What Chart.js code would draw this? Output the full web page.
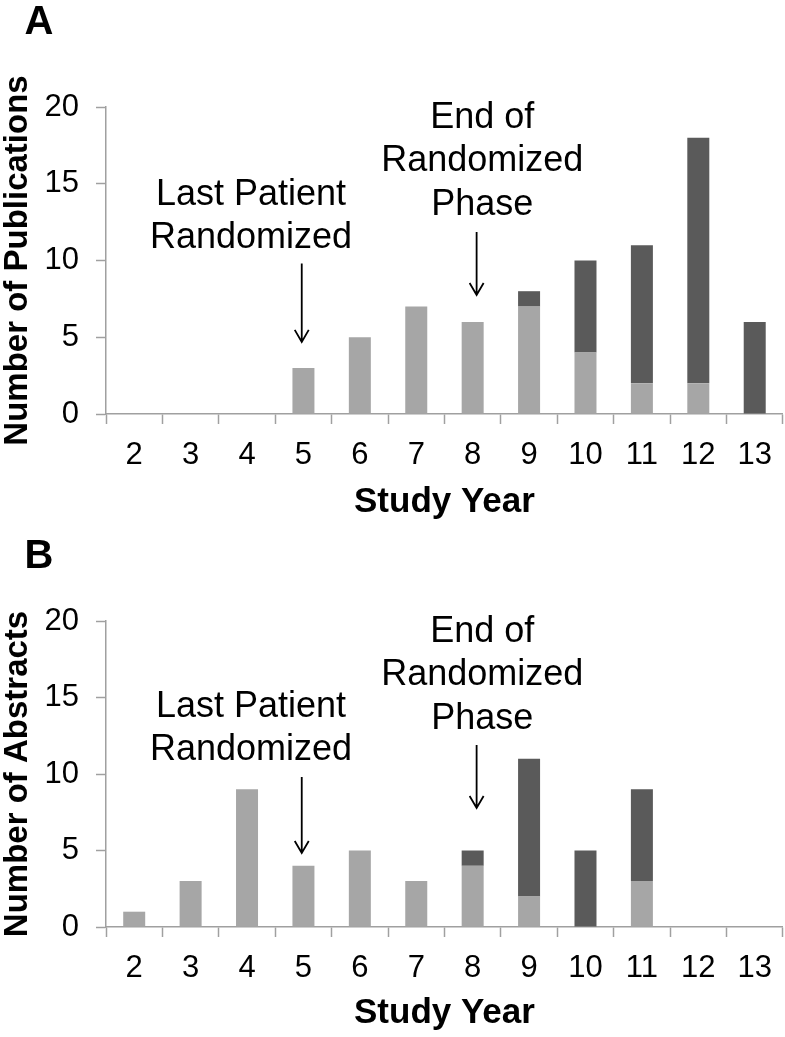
<!DOCTYPE html>
<html>
<head>
<meta charset="utf-8">
<script src="https://cdn.jsdelivr.net/npm/chart.js@4.4.1/dist/chart.umd.min.js"></script>
<style>
  html, body { margin: 0; padding: 0; background: #fff; }
  body { width: 785px; height: 1037px; position: relative; overflow: hidden; }
  canvas { position: absolute; left: 0; }
  #chartA { top: 0; }
  #chartB { top: 520px; }
</style>
</head>
<body>
<canvas id="chartA" width="785" height="520"></canvas>
<canvas id="chartB" width="785" height="517"></canvas>
<script>
// Study years (x categories)
const studyYears = ['2', '3', '4', '5', '6', '7', '8', '9', '10', '11', '12', '13'];

// Panel A: publications (light = lower part, dark = upper part)
const pubsLight = [0, 0, 0, 3, 5, 7, 6, 7, 4, 2, 2, 0];
const pubsDark  = [0, 0, 0, 0, 0, 0, 0, 1, 6, 9, 16, 6];

// Panel B: abstracts
const absLight = [1, 3, 9, 4, 5, 3, 4, 2, 0, 3, 0, 0];
const absDark  = [0, 0, 0, 0, 0, 0, 1, 9, 5, 6, 0, 0];

const yTicks = [0, 5, 10, 15, 20];

const FONT = "'Liberation Sans', Arial, Helvetica, sans-serif";
const LIGHT = '#a6a6a6';
const DARK = '#5a5a5a';
const AXIS = '#a0a0a0';

Chart.defaults.font.family = FONT;
Chart.defaults.color = '#000';

// Draws panel letter, text notes and arrows on top of the chart
const notesPlugin = {
    id: 'notes',
    afterDraw(chart, args, opts) {
        const ctx = chart.ctx;
        const xs = chart.scales.x;
        const ys = chart.scales.y;
        ctx.save();
        ctx.fillStyle = '#000';
        ctx.textAlign = 'center';
        ctx.textBaseline = 'middle';

        ctx.font = 'bold 40px ' + FONT;
        ctx.fillText(opts.letter, opts.letterX, opts.letterY);

        ctx.font = '36px ' + FONT;
        opts.texts.forEach(t => {
            const px = xs.getPixelForValue(t.x);
            const py = ys.getPixelForValue(t.y);
            t.lines.forEach((line, i) => ctx.fillText(line, px, py + i * 43.5));
        });

        ctx.strokeStyle = '#000';
        ctx.lineWidth = 1.8;
        opts.arrows.forEach(a => {
            const px = xs.getPixelForValue(a.x);
            const y0 = ys.getPixelForValue(a.from);
            const y1 = ys.getPixelForValue(a.to);
            ctx.beginPath();
            ctx.moveTo(px, y0);
            ctx.lineTo(px, y1);
            ctx.moveTo(px - 7, y1 - 12);
            ctx.lineTo(px, y1);
            ctx.lineTo(px + 7, y1 - 12);
            ctx.stroke();
        });
        ctx.restore();
    }
};

function makeChart(id, light, dark, yTitle, layout, notes) {
    return new Chart(document.getElementById(id), {
        type: 'bar',
        data: {
            labels: studyYears,
            datasets: [
                { data: light, backgroundColor: LIGHT, borderWidth: 0 },
                { data: dark, backgroundColor: DARK, borderWidth: 0 }
            ]
        },
        options: {
            responsive: false,
            animation: false,
            devicePixelRatio: 1,
            layout: { padding: { top: layout.top, right: 1, left: 0, bottom: 0 } },
            datasets: { bar: { categoryPercentage: 1, barPercentage: 0.39 } },
            plugins: {
                legend: { display: false },
                tooltip: { enabled: false },
                notes: notes
            },
            scales: {
                x: {
                    stacked: true,
                    grid: {
                        offset: true,
                        drawOnChartArea: false,
                        drawTicks: true,
                        tickLength: 10,
                        tickColor: AXIS,
                        tickWidth: 1.5
                    },
                    border: { color: AXIS, width: 1.5 },
                    ticks: { font: { size: 31 }, padding: 13, color: '#000' },
                    title: {
                        display: true,
                        text: 'Study Year',
                        font: { size: 35, weight: 'bold', lineHeight: 1 },
                        padding: { top: 0, bottom: layout.titleBottom },
                        color: '#000'
                    },
                    afterFit(scale) { scale.height = layout.xHeight; }
                },
                y: {
                    stacked: true,
                    min: 0,
                    max: 20,
                    afterBuildTicks(scale) { scale.ticks = yTicks.map(v => ({ value: v })); },
                    grid: {
                        drawOnChartArea: false,
                        drawTicks: true,
                        tickLength: 10,
                        tickColor: AXIS,
                        tickWidth: 1.5
                    },
                    border: { color: AXIS, width: 1.5 },
                    ticks: { font: { size: 31 }, padding: 17, color: '#000' },
                    title: {
                        display: true,
                        text: yTitle,
                        font: { size: 33, weight: 'bold', lineHeight: 1 },
                        padding: { top: 1, bottom: 0 },
                        color: '#000'
                    },
                    afterFit(scale) { scale.width = 106; }
                }
            }
        },
        plugins: [notesPlugin]
    });
}

makeChart('chartA', pubsLight, pubsDark, 'Number of Publications',
    { top: 107, xHeight: 106, titleBottom: 0 },
    {
        letter: 'A', letterX: 39, letterY: 23,
        texts: [
            { lines: ['Last Patient', 'Randomized'], x: 2.07, y: 14.27 },
            { lines: ['End of', 'Randomized', 'Phase'], x: 6.17, y: 19.28 }
        ],
        arrows: [
            { x: 2.97, from: 9.8, to: 4.7 },
            { x: 6.07, from: 11.86, to: 7.75 }
        ]
    });

makeChart('chartB', absLight, absDark, 'Number of Abstracts',
    { top: 101, xHeight: 110, titleBottom: 6 },
    {
        letter: 'B', letterX: 39, letterY: 37,
        texts: [
            { lines: ['Last Patient', 'Randomized'], x: 2.07, y: 14.38 },
            { lines: ['End of', 'Randomized', 'Phase'], x: 6.17, y: 19.28 }
        ],
        arrows: [
            { x: 2.97, from: 9.8, to: 4.84 },
            { x: 6.07, from: 11.9, to: 7.78 }
        ]
    });
</script>
</body>
</html>
